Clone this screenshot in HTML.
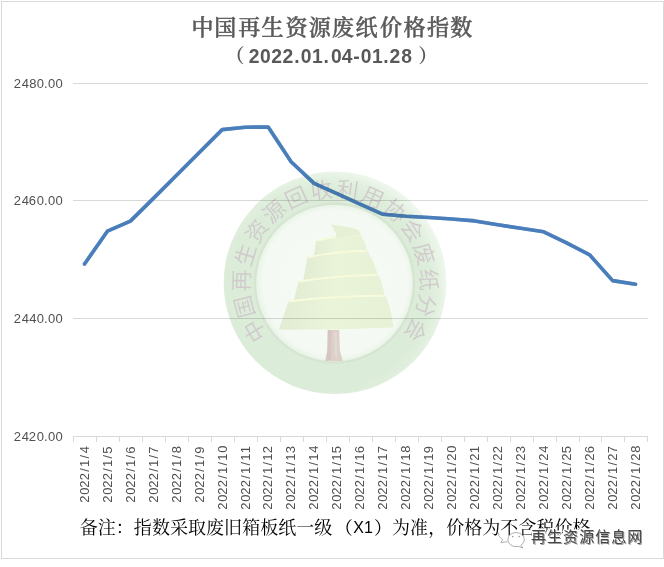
<!DOCTYPE html>
<html><head><meta charset="utf-8"><title>中国再生资源废纸价格指数</title>
<style>
html,body{margin:0;padding:0;background:#fff;}
body{width:664px;height:567px;position:relative;overflow:hidden;}
.frame{position:absolute;left:1px;top:1px;width:663px;height:558px;border:1px solid #d9d9d9;box-sizing:border-box;}
.layer{position:absolute;left:0;top:0;}
.wmk{position:absolute;left:0;top:0;mix-blend-mode:multiply;}
.yl,.xl{font-family:"Liberation Sans",sans-serif;font-size:13px;fill:#505050;}
.t1{font-family:"Liberation Serif","Noto Serif CJK SC",serif;font-weight:500;font-size:22px;fill:#595959;stroke:#595959;stroke-width:0.5px;}
.t2{font-family:"Liberation Sans","Noto Sans CJK SC",sans-serif;font-weight:700;font-size:19.3px;fill:#595959;}
.note{font-family:"Liberation Serif","Noto Serif CJK SC",serif;font-size:18px;fill:#000;}
.t2p{font-family:"Liberation Serif","Noto Serif CJK SC",serif;font-weight:700;}
.nx{font-family:"Liberation Sans",sans-serif;font-size:16px;}
.rt{font-family:"Liberation Sans","Noto Sans CJK SC",sans-serif;font-size:22px;fill:#d0cacd;font-weight:350;}
.wmh,.wmd,.wml{font-family:"Liberation Sans","Noto Sans CJK SC",sans-serif;font-size:15px;}
.wmh{fill:#fff;stroke:#fff;stroke-width:3px;}
.wmd{fill:#474747;}
.wml{fill:#9e9e9e;}
</style></head>
<body>
<div class="frame"></div>
<svg class="layer" width="664" height="567" viewBox="0 0 664 567">
<line x1="73" y1="83.5" x2="648" y2="83.5" stroke="#d9d9d9" stroke-width="1"/>
<line x1="73" y1="200.5" x2="648" y2="200.5" stroke="#d9d9d9" stroke-width="1"/>
<line x1="73" y1="318.5" x2="648" y2="318.5" stroke="#d9d9d9" stroke-width="1"/>
<line x1="73" y1="436.5" x2="648" y2="436.5" stroke="#d9d9d9" stroke-width="1"/>
<line x1="73.5" y1="436" x2="73.5" y2="442" stroke="#d9d9d9" stroke-width="1"/>
<line x1="96.5" y1="436" x2="96.5" y2="442" stroke="#d9d9d9" stroke-width="1"/>
<line x1="119.5" y1="436" x2="119.5" y2="442" stroke="#d9d9d9" stroke-width="1"/>
<line x1="142.5" y1="436" x2="142.5" y2="442" stroke="#d9d9d9" stroke-width="1"/>
<line x1="165.5" y1="436" x2="165.5" y2="442" stroke="#d9d9d9" stroke-width="1"/>
<line x1="188.5" y1="436" x2="188.5" y2="442" stroke="#d9d9d9" stroke-width="1"/>
<line x1="211.5" y1="436" x2="211.5" y2="442" stroke="#d9d9d9" stroke-width="1"/>
<line x1="234.5" y1="436" x2="234.5" y2="442" stroke="#d9d9d9" stroke-width="1"/>
<line x1="257.5" y1="436" x2="257.5" y2="442" stroke="#d9d9d9" stroke-width="1"/>
<line x1="280.5" y1="436" x2="280.5" y2="442" stroke="#d9d9d9" stroke-width="1"/>
<line x1="303.5" y1="436" x2="303.5" y2="442" stroke="#d9d9d9" stroke-width="1"/>
<line x1="326.5" y1="436" x2="326.5" y2="442" stroke="#d9d9d9" stroke-width="1"/>
<line x1="349.5" y1="436" x2="349.5" y2="442" stroke="#d9d9d9" stroke-width="1"/>
<line x1="372.5" y1="436" x2="372.5" y2="442" stroke="#d9d9d9" stroke-width="1"/>
<line x1="395.5" y1="436" x2="395.5" y2="442" stroke="#d9d9d9" stroke-width="1"/>
<line x1="418.5" y1="436" x2="418.5" y2="442" stroke="#d9d9d9" stroke-width="1"/>
<line x1="441.5" y1="436" x2="441.5" y2="442" stroke="#d9d9d9" stroke-width="1"/>
<line x1="464.5" y1="436" x2="464.5" y2="442" stroke="#d9d9d9" stroke-width="1"/>
<line x1="487.5" y1="436" x2="487.5" y2="442" stroke="#d9d9d9" stroke-width="1"/>
<line x1="510.5" y1="436" x2="510.5" y2="442" stroke="#d9d9d9" stroke-width="1"/>
<line x1="533.5" y1="436" x2="533.5" y2="442" stroke="#d9d9d9" stroke-width="1"/>
<line x1="556.5" y1="436" x2="556.5" y2="442" stroke="#d9d9d9" stroke-width="1"/>
<line x1="579.5" y1="436" x2="579.5" y2="442" stroke="#d9d9d9" stroke-width="1"/>
<line x1="601.5" y1="436" x2="601.5" y2="442" stroke="#d9d9d9" stroke-width="1"/>
<line x1="624.5" y1="436" x2="624.5" y2="442" stroke="#d9d9d9" stroke-width="1"/>
<line x1="647.5" y1="436" x2="647.5" y2="442" stroke="#d9d9d9" stroke-width="1"/>
<polyline points="84.5,264.0 107.4,231.2 130.4,221.1 153.4,198.4 176.3,175.4 199.3,152.4 222.2,129.6 245.2,127.2 268.2,127.1 291.1,161.8 314.1,183.4 337.0,193.6 360.0,204.2 383.0,214.3 405.9,216.3 428.9,217.5 451.8,219.0 474.8,220.9 497.8,224.8 520.7,228.3 543.7,231.8 566.6,242.9 589.6,254.8 612.6,280.6 635.5,284.3" fill="none" stroke="#4a7ebb" stroke-width="3.6" stroke-linejoin="round" stroke-linecap="round"/>
</svg>
<svg class="wmk" width="664" height="567" viewBox="0 0 664 567">
<defs><radialGradient id="rg" cx="326" cy="291" r="124" gradientUnits="userSpaceOnUse"><stop offset="0" stop-color="#dcecd9"/><stop offset="0.80" stop-color="#dbecd8"/><stop offset="0.90" stop-color="#e2f0df"/><stop offset="1" stop-color="#f1f8f0"/></radialGradient><radialGradient id="ig" cx="335.0" cy="282.8" r="78.2" gradientUnits="userSpaceOnUse"><stop offset="0" stop-color="#f6fbf5"/><stop offset="0.92" stop-color="#f4faf3"/><stop offset="1" stop-color="#ebf4e9"/></radialGradient><linearGradient id="tg" x1="0" y1="0" x2="1" y2="0"><stop offset="0" stop-color="#e1ecd3"/><stop offset="0.45" stop-color="#e9f4d9"/><stop offset="1" stop-color="#e6f1d6"/></linearGradient></defs>
<circle cx="335.0" cy="282.8" r="111.3" fill="url(#rg)"/>
<circle cx="334.5" cy="283.1" r="79.4" fill="none" stroke="#d3e3d0" stroke-width="2.4" opacity="0.7"/>
<circle cx="334.5" cy="283.1" r="78.2" fill="url(#ig)"/>
<text x="335.0" y="197.2" transform="rotate(-120.83 335.0 282.8)" text-anchor="middle" class="rt">中</text>
<text x="335.0" y="197.2" transform="rotate(-104.75 335.0 282.8)" text-anchor="middle" class="rt">国</text>
<text x="335.0" y="197.2" transform="rotate(-88.69 335.0 282.8)" text-anchor="middle" class="rt">再</text>
<text x="335.0" y="197.2" transform="rotate(-72.61 335.0 282.8)" text-anchor="middle" class="rt">生</text>
<text x="335.0" y="197.2" transform="rotate(-56.55 335.0 282.8)" text-anchor="middle" class="rt">资</text>
<text x="335.0" y="197.2" transform="rotate(-40.47 335.0 282.8)" text-anchor="middle" class="rt">源</text>
<text x="335.0" y="197.2" transform="rotate(-24.41 335.0 282.8)" text-anchor="middle" class="rt">回</text>
<text x="335.0" y="197.2" transform="rotate(-8.34 335.0 282.8)" text-anchor="middle" class="rt">收</text>
<text x="335.0" y="197.2" transform="rotate(7.74 335.0 282.8)" text-anchor="middle" class="rt">利</text>
<text x="335.0" y="197.2" transform="rotate(23.80 335.0 282.8)" text-anchor="middle" class="rt">用</text>
<text x="335.0" y="197.2" transform="rotate(39.88 335.0 282.8)" text-anchor="middle" class="rt">协</text>
<text x="335.0" y="197.2" transform="rotate(55.95 335.0 282.8)" text-anchor="middle" class="rt">会</text>
<text x="335.0" y="197.2" transform="rotate(72.02 335.0 282.8)" text-anchor="middle" class="rt">废</text>
<text x="335.0" y="197.2" transform="rotate(88.09 335.0 282.8)" text-anchor="middle" class="rt">纸</text>
<text x="335.0" y="197.2" transform="rotate(104.16 335.0 282.8)" text-anchor="middle" class="rt">分</text>
<text x="335.0" y="197.2" transform="rotate(120.23 335.0 282.8)" text-anchor="middle" class="rt">会</text>
<path d="M327.8,330 L339.2,330 L339.8,350 L342.8,361 L325.2,361 L327.4,350 Z" fill="#ddd0ca"/>
<path d="M327.8,330 L331.5,330 L331,360 L325.6,360.5 L327.4,350 Z" fill="#d5c7c0"/>
<path d="M334.5,332 L336.5,332 L337.2,357 L335,357 Z" fill="#e4dad5"/>
<path d="M288.7,300.9 Q337.2,295.1 385.7,295.4 Q391.7,311.4 393.4,327.4 Q336.1,330.1 278.8,329.8 Z" fill="url(#tg)"/>
<path d="M298.6,281.1 Q338.3,274.7 378.0,274.3 Q383.5,285.2 384.6,296.2 Q339.1,300.5 293.5,301.8 Z" fill="url(#tg)"/>
<path d="M307.5,256.9 Q337.2,250.6 367.0,250.3 Q374.7,262.6 378.0,275.0 Q340.5,279.9 303.0,281.8 Z" fill="url(#tg)"/>
<path d="M316.3,240.3 Q338.3,234.6 360.3,234.8 Q365.8,242.9 367.0,251.0 Q340.2,255.8 313.5,257.6 Z" fill="url(#tg)"/>
<path d="M289.3,301.29999999999995 Q337.2,295.8 385.09999999999997,295.79999999999995" fill="none" stroke="#f7fbdc" stroke-width="1.9"/>
<path d="M299.20000000000005,281.5 Q338.3,275.3 377.4,274.7" fill="none" stroke="#f7fbdc" stroke-width="1.9"/>
<path d="M308.1,257.29999999999995 Q337.2,251.2 366.4,250.70000000000002" fill="none" stroke="#f7fbdc" stroke-width="1.9"/>
<path d="M316.90000000000003,240.70000000000002 Q338.3,235.2 359.7,235.20000000000002" fill="none" stroke="#f7fbdc" stroke-width="1.9"/>
<path d="M331.3,224.6 Q345,226.5 357,229.3 Q361,231.5 360.3,235.5 Q347,235.6 336.3,238.6 Q336.5,233 333.8,229.8 Z" fill="#e5f0d5"/>
</svg>
<svg class="layer" width="664" height="567" viewBox="0 0 664 567">
<text x="13.75 21.75 29.25 36.75 43.9 48.05 55.55" y="88" class="yl">2480.00</text>
<text x="13.75 21.75 28.75 36.75 43.9 48.05 55.55" y="205" class="yl">2460.00</text>
<text x="13.75 21.75 29.25 36.75 43.9 48.05 55.55" y="323" class="yl">2440.00</text>
<text x="13.75 21.75 28.75 36.75 43.9 48.05 55.55" y="441" class="yl">2420.00</text>
<text transform="translate(88.78,502.60) rotate(-90)" x="-0.25 7.75 14.75 22.25 30.88 35.5 44.12 49.25" y="0" class="xl">2022/1/4</text>
<text transform="translate(111.74,502.60) rotate(-90)" x="-0.25 7.75 14.75 22.25 30.88 35.5 44.12 48.75" y="0" class="xl">2022/1/5</text>
<text transform="translate(134.70,502.60) rotate(-90)" x="-0.25 7.75 14.75 22.25 30.88 35.5 44.12 48.75" y="0" class="xl">2022/1/6</text>
<text transform="translate(157.66,502.60) rotate(-90)" x="-0.25 7.75 14.75 22.25 30.88 35.5 44.12 48.75" y="0" class="xl">2022/1/7</text>
<text transform="translate(180.62,502.60) rotate(-90)" x="-0.25 7.75 14.75 22.25 30.88 35.5 44.12 49.25" y="0" class="xl">2022/1/8</text>
<text transform="translate(203.58,502.60) rotate(-90)" x="-0.25 7.75 14.75 22.25 30.88 35.5 44.12 48.75" y="0" class="xl">2022/1/9</text>
<text transform="translate(226.54,509.50) rotate(-90)" x="-0.25 7.75 14.75 22.25 30.88 35.5 44.12 48.75 56.75" y="0" class="xl">2022/1/10</text>
<text transform="translate(249.50,509.50) rotate(-90)" x="-0.25 7.75 14.75 22.25 30.88 35.5 44.12 48.75 56.25" y="0" class="xl">2022/1/11</text>
<text transform="translate(272.46,509.50) rotate(-90)" x="-0.25 7.75 14.75 22.25 30.88 35.5 44.12 48.75 56.25" y="0" class="xl">2022/1/12</text>
<text transform="translate(295.42,509.50) rotate(-90)" x="-0.25 7.75 14.75 22.25 30.88 35.5 44.12 48.75 56.25" y="0" class="xl">2022/1/13</text>
<text transform="translate(318.38,509.50) rotate(-90)" x="-0.25 7.75 14.75 22.25 30.88 35.5 44.12 48.75 56.75" y="0" class="xl">2022/1/14</text>
<text transform="translate(341.34,509.50) rotate(-90)" x="-0.25 7.75 14.75 22.25 30.88 35.5 44.12 48.75 56.25" y="0" class="xl">2022/1/15</text>
<text transform="translate(364.30,509.50) rotate(-90)" x="-0.25 7.75 14.75 22.25 30.88 35.5 44.12 48.75 56.25" y="0" class="xl">2022/1/16</text>
<text transform="translate(387.26,509.50) rotate(-90)" x="-0.25 7.75 14.75 22.25 30.88 35.5 44.12 48.75 56.25" y="0" class="xl">2022/1/17</text>
<text transform="translate(410.22,509.50) rotate(-90)" x="-0.25 7.75 14.75 22.25 30.88 35.5 44.12 48.75 56.75" y="0" class="xl">2022/1/18</text>
<text transform="translate(433.18,509.50) rotate(-90)" x="-0.25 7.75 14.75 22.25 30.88 35.5 44.12 48.75 56.25" y="0" class="xl">2022/1/19</text>
<text transform="translate(456.14,509.50) rotate(-90)" x="-0.25 7.75 14.75 22.25 30.88 35.5 44.12 48.75 56.75" y="0" class="xl">2022/1/20</text>
<text transform="translate(479.10,509.50) rotate(-90)" x="-0.25 7.75 14.75 22.25 30.88 35.5 44.12 48.75 56.25" y="0" class="xl">2022/1/21</text>
<text transform="translate(502.06,509.50) rotate(-90)" x="-0.25 7.75 14.75 22.25 30.88 35.5 44.12 48.75 56.25" y="0" class="xl">2022/1/22</text>
<text transform="translate(525.02,509.50) rotate(-90)" x="-0.25 7.75 14.75 22.25 30.88 35.5 44.12 48.75 56.25" y="0" class="xl">2022/1/23</text>
<text transform="translate(547.98,509.50) rotate(-90)" x="-0.25 7.75 14.75 22.25 30.88 35.5 44.12 48.75 56.75" y="0" class="xl">2022/1/24</text>
<text transform="translate(570.94,509.50) rotate(-90)" x="-0.25 7.75 14.75 22.25 30.88 35.5 44.12 48.75 56.25" y="0" class="xl">2022/1/25</text>
<text transform="translate(593.90,509.50) rotate(-90)" x="-0.25 7.75 14.75 22.25 30.88 35.5 44.12 48.75 56.25" y="0" class="xl">2022/1/26</text>
<text transform="translate(616.86,509.50) rotate(-90)" x="-0.25 7.75 14.75 22.25 30.88 35.5 44.12 48.75 56.25" y="0" class="xl">2022/1/27</text>
<text transform="translate(639.82,509.50) rotate(-90)" x="-0.25 7.75 14.75 22.25 30.88 35.5 44.12 48.75 56.75" y="0" class="xl">2022/1/28</text>
<polyline points="84.5,264.0 107.4,231.2 130.4,221.1 153.4,198.4 176.3,175.4 199.3,152.4 222.2,129.6 245.2,127.2 268.2,127.1 291.1,161.8 314.1,183.4 337.0,193.6 360.0,204.2 383.0,214.3 405.9,216.3 428.9,217.5 451.8,219.0 474.8,220.9 497.8,224.8 520.7,228.3 543.7,231.8 566.6,242.9 589.6,254.8 612.6,280.6 635.5,284.3" fill="none" stroke="#4a7ebb" stroke-width="3.6" stroke-linejoin="round" stroke-linecap="round" opacity="0.5"/>
<text x="191.44 214.31 238.15 261.6 285.57 308.66 332.12 355.59 380.07 403.58 427.08 450.37" y="35" class="t1">中国再生资源废纸价格指数</text>
<text y="63" class="t2"><tspan class="t2p" x="225.15">（</tspan><tspan x="248.7 260 271.3 282.6 294.25 300.65 311.95 323.6 330.9 341.8 353.2 360.8 371.95 383.2 389.6 401.25">2022.01.04-01.28</tspan><tspan class="t2p" x="418.25">）</tspan></text>
<text x="79.7 97.75 115.8 133.85 151.9 169.95 188 206.05 224.1 242.15 260.2 278.25 296.3 314.35 334.7" y="534" class="note">备注：指数采取废旧箱板纸一级（<tspan class="nx" x="353.22 364.06" y="533">X1</tspan><tspan x="374 392.05 410.1 428.15 446.2 464.25 482.3 500.35 518.4 536.45 554.5 572.55" y="534">）为准，价格为不含税价格</tspan></text>
<g fill="none" stroke="#9a9a9a" stroke-width="0.8"><path d="M507.5,541.6 L501,542.6 L502.6,539.8 Q497.6,536.5 498.4,532.6"/><ellipse cx="515.7" cy="539.8" rx="8.2" ry="7.0" fill="#fff" stroke="none"/><path d="M508.2,541.5 A8.2,7 0 1 1 520.8,545.3 L522.8,548 L518.4,546.4 A8.2,7 0 0 1 508.2,541.5"/></g><circle cx="512.7" cy="536.6" r="0.8" fill="#999"/><circle cx="519.1" cy="536.6" r="0.8" fill="#999"/>
<text x="531 547.05 563.1 579.15 595.2 611.25 627.3" y="542.2" class="wmh">再生资源信息网</text>
<text x="531.9 547.95 564 580.05 596.1 612.15 628.2" y="543.1" class="wml">再生资源信息网</text>
<text x="531 547.05 563.1 579.15 595.2 611.25 627.3" y="542.2" class="wmd">再生资源信息网</text>
</svg>
</body></html>
